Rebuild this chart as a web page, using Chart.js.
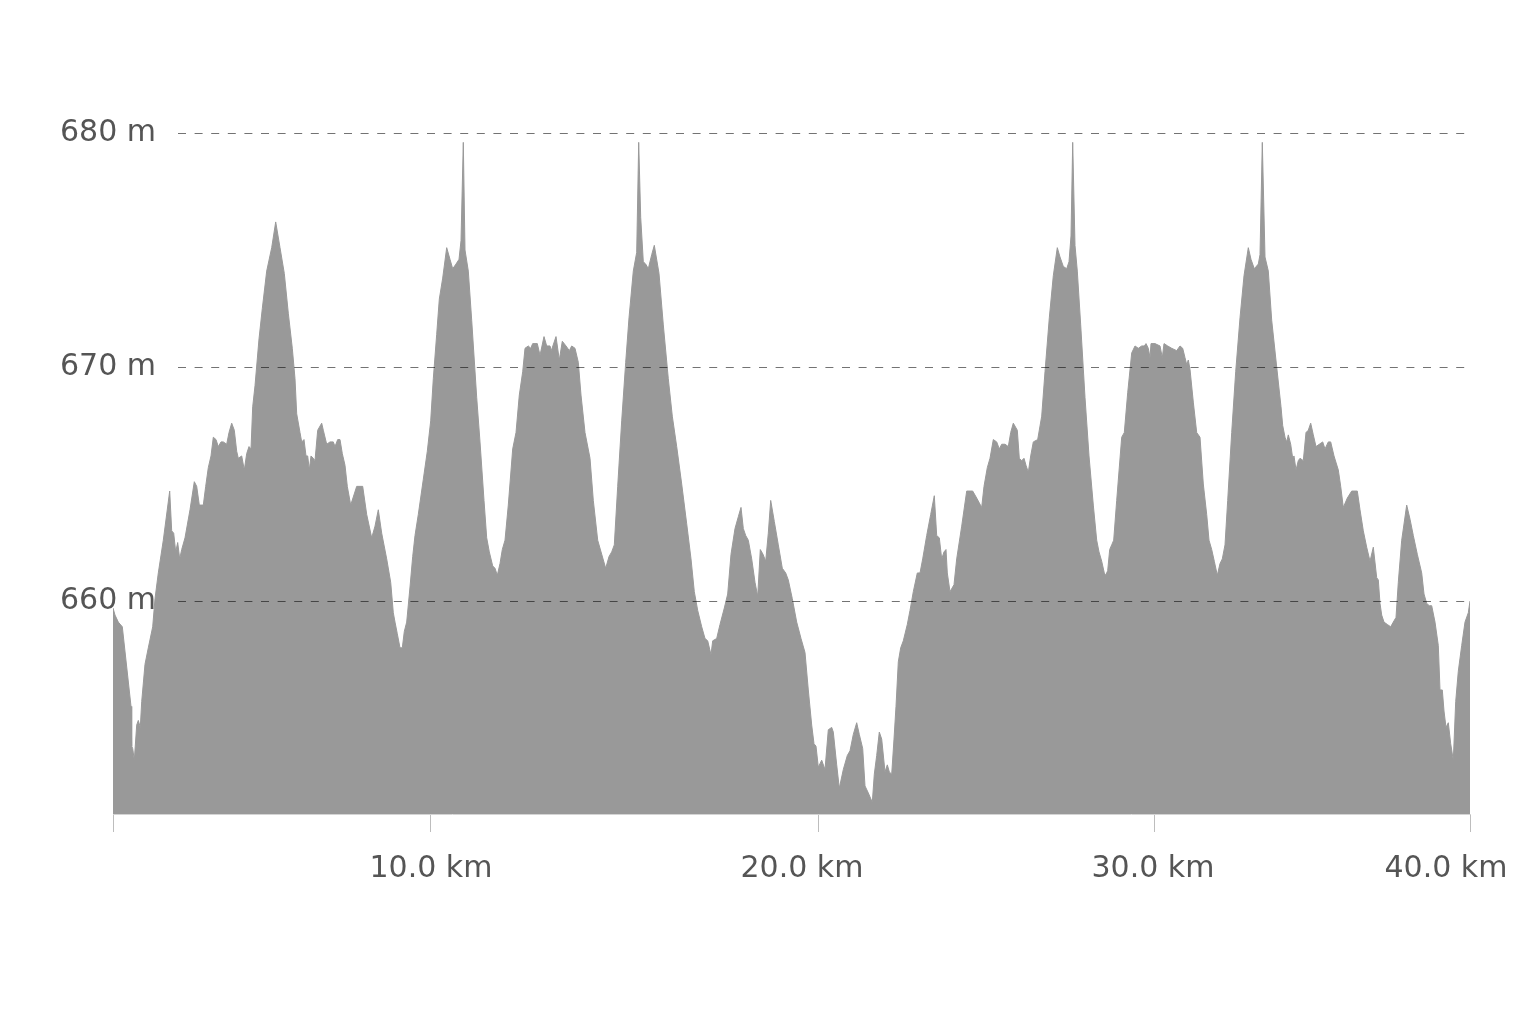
<!DOCTYPE html>
<html>
<head>
<meta charset="utf-8">
<title>Elevation profile</title>
<script src="https://cdn.jsdelivr.net/npm/chart.js@4.4.1/dist/chart.umd.min.js"></script>
<style>
  html, body { margin: 0; padding: 0; background: #fff; }
  #profile { display: block; }
</style>
</head>
<body>
<canvas id="profile" width="1536" height="1024"></canvas>
<script>
// position of each sample along the profile (sample index, the chart spaces samples evenly, not by km)
const samplePos = [
  0, 2, 5.3, 9.3, 18, 18.7, 19.7, 21.3, 23.7, 25.3, 27.3, 28.7, 32, 35.3, 39.7, 42, 45.3, 50.3,
  56.7, 58.7, 60.7, 62.7, 64.7, 66.7, 68.7, 72, 77, 81.3, 83.7, 86.3, 90.3, 92.7, 95.3, 98,
  100.3, 103, 105.3, 108, 110.3, 113.7, 116, 118.7, 121.3, 123.7, 125.3, 128.7, 131.3, 133.7,
  136, 138, 139.7, 142, 146, 149.3, 153.7, 158.7, 162.7, 167, 171.3, 175.3, 179.3, 182, 183.7,
  187, 188.7, 191, 193, 194.7, 196.3, 198, 200.3, 202, 204.7, 208.7, 210.3, 213.7, 217, 220.3,
  222, 224.7, 227, 229.3, 232, 234.3, 237.7, 243.7, 249.7, 253.7, 258.7, 262, 265.3, 268.7,
  273.7, 277.7, 280.3, 282, 284.3, 287, 289.3, 291.3, 293.7, 297, 299.7, 302, 305.3, 310.3,
  314.3, 317.7, 320.3, 323.7, 326.3, 329.7, 333.7, 337, 339.7, 343, 346, 348, 350.3, 352,
  355.3, 358.7, 363.7, 367, 371, 373.7, 376.3, 379.7, 382, 384.3, 387, 389.3, 392, 395.3,
  399.7, 403, 406.3, 409.7, 412, 415.3, 417.7, 419.7, 424.3, 427, 431, 433.7, 437, 438.3, 443,
  446.3, 449.3, 453, 456.3, 458.7, 462, 465.3, 468, 472, 477, 480.3, 484.7, 488.7, 492.7, 496,
  498.7, 501.3, 504.7, 508.7, 512.7, 516, 520.3, 523.7, 525.7, 527.7, 530.3, 532.7, 535.3,
  538.7, 541.3, 546, 550.3, 555.3, 559.3, 563.7, 568.7, 573.7, 578, 581.3, 584.7, 588.7, 592,
  594.7, 598, 599.7, 603.7, 607, 611.3, 614.7, 618, 622, 625.3, 628, 630.3, 632.7, 635.3,
  638.7, 642, 644.7, 647.3, 650, 652.7, 655.3, 657.7, 661.3, 665.3, 669.3, 672.7, 675.3,
  679.3, 683.7, 688, 692, 695.3, 698.7, 701, 703, 705.3, 708.7, 712, 715.3, 718.7, 720.3,
  723.7, 726.3, 730.3, 734.3, 737, 740.3, 743.7, 746.3, 749.7, 752, 755.3, 759.3, 761.3,
  763.7, 766.3, 768.7, 772, 774.3, 776.3, 778.7, 781, 783, 785.3, 787.7, 790.3, 794.3, 797,
  800.3, 804.3, 807, 809.7, 813.7, 817.7, 821.3, 823.7, 826.3, 828.7, 831, 833, 834.3, 837,
  839.7, 841, 843.7, 848.7, 853.7, 859.7, 863.7, 868.7, 871, 874.3, 877, 880.3, 883.7, 886.3,
  888.7, 892, 895.3, 897.7, 900.3, 904.3, 906.3, 908.7, 911, 913, 915.3, 917.7, 920.3, 924.7,
  928.7, 932, 936.3, 940.3, 944.3, 947, 950.3, 953.7, 956, 958, 959.7, 962, 964.3, 967.7, 972,
  976, 980.3, 983.7, 986, 988.7, 991.3, 992.7, 994.7, 996.7, 998.7, 1000.7, 1003.7, 1008.7,
  1011.3, 1014.7, 1018.7, 1022, 1025.3, 1028.7, 1031.3, 1033, 1035.3, 1037, 1038, 1042, 1047,
  1049.3, 1051, 1054.7, 1058.7, 1063.7, 1067, 1069.7, 1072, 1073.7, 1075.3, 1077, 1080.3,
  1083.7, 1087, 1090.3, 1093.7, 1096, 1098.7, 1101.3, 1104.3, 1107, 1109.3, 1112, 1114.7,
  1118.7, 1122.7, 1127, 1131, 1135.3, 1138, 1141.3, 1145.3, 1147, 1149.3, 1152, 1155.3, 1158.7,
  1163.7, 1168, 1169.7, 1172, 1173.7, 1175.3, 1177.7, 1179.7, 1181, 1183, 1185.3, 1187, 1190.3,
  1193, 1195.3, 1197.7, 1200.3, 1203, 1206.3, 1209.7, 1212, 1215.3, 1217.7, 1221, 1225.3,
  1227.7, 1230.3, 1234.3, 1238.7, 1244.3, 1247, 1250.3, 1253.7, 1257, 1260.3, 1263.7, 1265.3,
  1267, 1268.7, 1271, 1274.3, 1277.7, 1280.3, 1283, 1285.3, 1288.7, 1293.7, 1297, 1300.3,
  1304.3, 1308.7, 1311, 1313.7, 1316.3, 1318.7, 1322, 1325.3, 1327, 1329.3, 1331, 1333, 1335.3,
  1337.7, 1340.3, 1342.7, 1345.3, 1348.7, 1352, 1355.3, 1357
];

// elevation in metres at each sample
const elevation = [
  659.7, 659.4, 659.1, 658.9, 655.5, 653.8, 653.7, 653.2, 654.7, 654.9, 654.6, 655.7, 657.3, 658.0, 658.9, 660.1, 661.2, 662.6,
  664.7, 663.0, 662.9, 662.1, 662.5, 661.8, 662.2, 662.7, 663.9, 665.1, 664.9, 664.1, 664.1, 664.9, 665.7, 666.2,
  667.0, 666.9, 666.6, 666.8, 666.8, 666.7, 667.2, 667.6, 667.3, 666.4, 666.1, 666.2, 665.6, 666.3,
  666.6, 666.5, 668.3, 669.2, 671.2, 672.5, 674.1, 675.1, 676.2, 675.1, 674.0, 672.3, 670.8, 669.5, 668.0,
  667.2, 666.8, 666.9, 666.2, 666.2, 665.6, 666.2, 666.1, 666.0, 667.3, 667.6, 667.3, 666.7, 666.8, 666.8,
  666.6, 666.9, 666.9, 666.3, 665.8, 664.9, 664.1, 664.9, 664.9, 663.7, 662.7, 663.2, 663.9, 662.9,
  661.8, 660.8, 659.5, 659.1, 658.6, 658.0, 658.0, 658.7, 659.1, 660.6, 661.9, 662.8, 663.7, 665.2,
  666.4, 667.7, 669.5, 671.4, 672.9, 673.8, 675.1, 674.6, 674.2, 674.4, 674.6, 675.4, 679.6, 675.0,
  674.1, 672.0, 668.7, 666.8, 664.3, 662.7, 662.1, 661.5, 661.4, 661.1, 661.6, 662.2, 662.6, 664.1,
  666.5, 667.2, 668.8, 669.8, 670.8, 670.9, 670.8, 671.0, 671.0, 670.5, 671.3, 670.9, 670.9, 670.7, 671.3,
  670.3, 671.1, 670.9, 670.7, 670.9, 670.8, 670.2, 668.8, 667.2, 666.1, 664.3, 662.6, 662.0, 661.4, 661.9,
  662.1, 662.4, 664.9, 667.7, 670.2, 672.1, 674.1, 674.9, 679.6, 676.4, 674.5, 674.4, 674.2,
  674.8, 675.2, 674.0, 671.8, 669.5, 667.9, 666.6, 665.0, 663.3, 661.8, 660.4, 659.6, 658.9, 658.4,
  658.3, 657.7, 658.3, 658.4, 659.0, 659.7, 660.3, 662.0, 663.1, 663.6, 664.0, 663.1, 662.8, 662.6,
  661.8, 660.8, 660.2, 662.2, 662.0, 661.7, 662.9, 664.3, 663.4, 662.4, 661.4, 661.2, 660.9,
  660.1, 659.1, 658.4, 657.8, 656.2, 654.7, 653.9, 653.8, 652.9, 653.2, 652.8, 654.5, 654.6, 654.4,
  653.0, 652.0, 652.8, 653.4, 653.6, 654.3, 654.8, 654.3, 653.7, 652.1, 651.8, 651.4, 652.6,
  653.4, 654.4, 654.1, 652.7, 653.0, 652.7, 652.6, 654.1, 655.5, 657.4, 658.0, 658.3, 659.0, 659.6,
  660.4, 661.2, 661.2, 661.8, 662.8, 663.7, 664.5, 662.8, 662.7, 661.8, 662.1, 662.2, 661.2, 660.4,
  660.6, 660.7, 661.8, 663.2, 664.7, 664.7, 664.4, 664.0, 664.9, 665.7, 666.1, 666.9, 666.8, 666.5,
  666.7, 666.7, 666.6, 667.2, 667.6, 667.3, 666.1, 666.0, 666.1, 665.8, 665.5, 666.2, 666.8, 666.9,
  667.9, 669.8, 672.1, 673.9, 675.1, 674.7, 674.3, 674.2, 674.5, 675.6, 679.6, 675.2, 674.1, 671.8, 668.7,
  666.2, 664.1, 662.6, 662.1, 661.7, 661.2, 661.1, 661.3, 662.2, 662.4, 662.6, 664.3, 667.0,
  667.2, 668.9, 670.6, 670.9, 670.8, 670.9, 670.9, 671.0, 670.8, 670.4, 671.0, 671.0, 670.9,
  670.4, 671.0, 670.9, 670.8, 670.7, 670.9, 670.8, 670.4, 670.1, 670.3, 669.9, 668.5,
  667.2, 667.0, 665.0, 663.7, 662.6, 662.2, 661.7, 661.1, 661.6, 661.8, 662.4, 664.3,
  667.2, 669.8, 672.1, 673.9, 675.1, 674.6, 674.2, 674.4, 674.8, 679.6, 674.7, 674.1, 672.0,
  670.0, 668.3, 667.5, 667.0, 666.8, 667.1, 666.7, 666.1, 666.2, 665.6, 666.0, 666.1, 666.0,
  667.2, 667.3, 667.6, 667.1, 666.6, 666.7, 666.8, 666.5, 666.8, 666.8, 666.2, 665.6,
  664.9, 664.0, 664.4, 664.7, 664.7, 663.9, 663.0, 662.3, 661.7, 662.3, 661.0, 660.9,
  659.9, 659.4, 659.1, 659.0, 658.9, 659.1, 659.3, 660.8, 662.6, 664.1, 663.5, 662.8,
  662.0, 661.2, 660.3, 659.9, 659.8, 659.8, 659.1, 658.1, 656.2, 656.2, 655.3, 654.6, 654.8,
  653.9, 653.2, 655.7, 657.0, 658.1, 659.1, 659.5, 660.0
];

// distance axis: tick marks and where the km labels sit (sample index)
const distTickPos = [0, 317, 705, 1041, 1357];
const distLabelPos = [318, 689, 1040, 1333];
const distLabels = ['10.0 km', '20.0 km', '30.0 km', '40.0 km'];

// elevation axis
const elevTicks = [660, 670, 680];
const elevMin = 650.9;
const elevMax = 680;

Chart.defaults.font.family = '"DejaVu Sans", sans-serif';
Chart.defaults.font.size = 30;
Chart.defaults.color = '#555';

// dashed guide lines, they start right of the elevation labels
const dashedGrid = {
  id: 'dashedGrid',
  afterDatasetsDraw(chart) {
    const { ctx, chartArea, scales } = chart;
    const y = scales.y;
    ctx.save();
    ctx.strokeStyle = 'rgba(0,0,0,0.55)';
    ctx.lineWidth = 1;
    ctx.setLineDash([8, 8.6]);
    y.ticks.forEach(t => {
      const py = Math.round(y.getPixelForValue(t.value)) + 0.5;
      ctx.beginPath();
      ctx.moveTo(chartArea.left + 65, py);
      ctx.lineTo(chartArea.right, py);
      ctx.stroke();
    });
    ctx.restore();
  }
};

const points = samplePos.map((p, i) => ({ x: p, y: elevation[i] }));

new Chart(document.getElementById('profile'), {
  type: 'line',
  data: {
    datasets: [{
      data: points,
      xAxisID: 'x',
      yAxisID: 'y',
      fill: 'start',
      backgroundColor: '#999999',
      borderColor: '#999999',
      borderWidth: 1,
      pointRadius: 0,
      tension: 0
    }]
  },
  options: {
    responsive: false,
    animation: false,
    events: [],
    layout: { padding: { top: 133, left: 113, right: 66, bottom: 132 } },
    plugins: { legend: { display: false }, tooltip: { enabled: false } },
    scales: {
      x: {
        type: 'linear',
        position: 'bottom',
        weight: 0,
        min: 0,
        max: samplePos[samplePos.length - 1],
        afterBuildTicks: s => { s.ticks = distTickPos.map(v => ({ value: v })); },
        afterFit: s => { s.height = 18; },
        ticks: { display: false },
        grid: { drawOnChartArea: false, drawTicks: true, tickLength: 18, color: '#bdbdbd', lineWidth: 1 },
        border: { display: true, color: '#d4d4d4', width: 1 }
      },
      xl: {
        type: 'linear',
        position: 'bottom',
        weight: 1,
        min: 0,
        max: samplePos[samplePos.length - 1],
        afterBuildTicks: s => { s.ticks = distLabelPos.map(v => ({ value: v })); },
        afterFit: s => { s.height = 60; },
        ticks: {
          padding: 19,
          maxRotation: 0,
          autoSkip: false,
          callback: (v, i) => distLabels[i]
        },
        grid: { display: false, drawTicks: false },
        border: { display: false }
      },
      y: {
        type: 'linear',
        position: 'left',
        min: elevMin,
        max: elevMax,
        afterBuildTicks: s => { s.ticks = elevTicks.map(v => ({ value: v })); },
        afterFit: s => { s.width = 0; },
        ticks: {
          z: 1,
          mirror: true,
          padding: -53,
          callback: v => v + ' m'
        },
        grid: { display: false, drawTicks: false },
        border: { display: false }
      }
    }
  },
  plugins: [dashedGrid]
});
</script>
</body>
</html>
